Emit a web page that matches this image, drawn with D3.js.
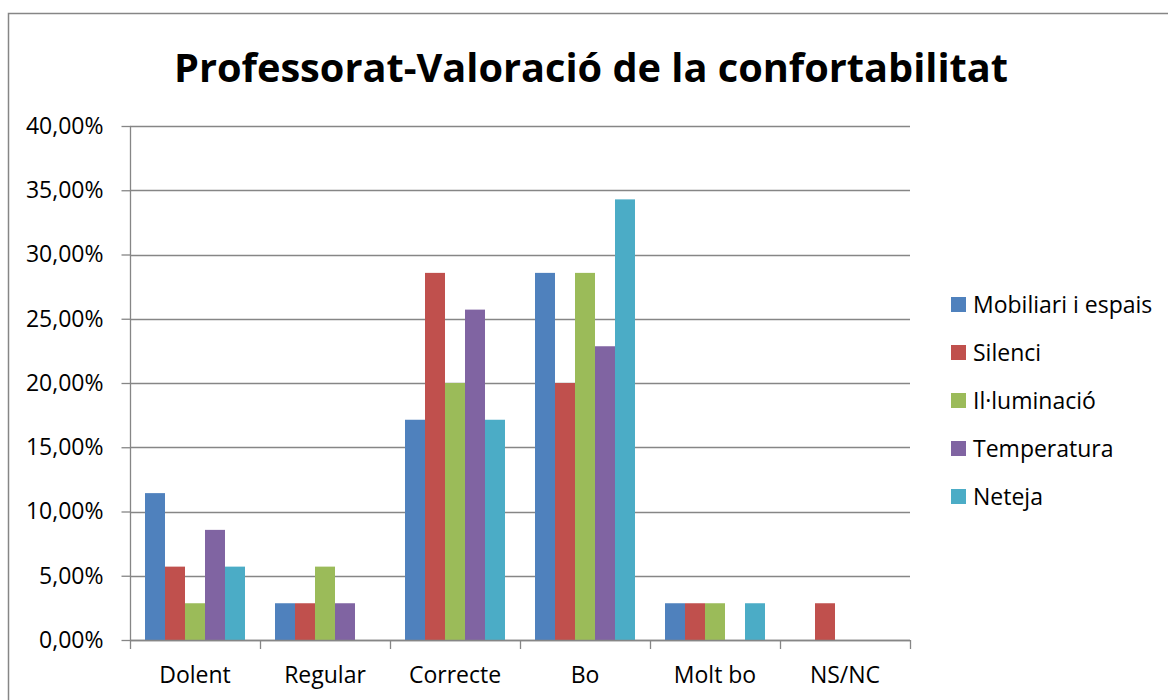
<!DOCTYPE html>
<html><head><meta charset="utf-8">
<script src="https://cdn.jsdelivr.net/npm/d3@7"></script>
<style>body{margin:0;background:#fff}svg{display:block}text{font-family:"Open Sans","Noto Sans",sans-serif}</style>
</head><body>
<script>
const categories = ["Dolent","Regular","Correcte","Bo","Molt bo","NS/NC"];
const seriesNames = ["Mobiliari i espais","Silenci","Il·luminació","Temperatura","Neteja"];
const mobiliari   = [11.43, 2.86, 17.14, 28.57, 2.86, 0];
const silenci     = [5.71, 2.86, 28.57, 20.00, 2.86, 2.86];
const illuminacio = [2.86, 5.71, 20.00, 28.57, 2.86, 0];
const temperatura = [8.57, 2.86, 25.71, 22.86, 0, 0];
const neteja      = [5.71, 0, 17.14, 34.29, 2.86, 0];
const yTicks = [0,5,10,15,20,25,30,35,40];
const colors = ["#4F81BD","#C0504D","#9BBB59","#8064A2","#4BACC6"];
const title = "Professorat-Valoració de la confortabilitat";

const seriesValues = [mobiliari, silenci, illuminacio, temperatura, neteja];
const W=1168,H=700;
const svg=d3.select("body").append("svg").attr("width",W).attr("height",H);
svg.append("rect").attr("x",8.5).attr("y",13.5).attr("width",W+10).attr("height",H+10)
  .attr("fill","#fff").attr("stroke","#868686").attr("stroke-width",1.5);

const L=130,R=910,T=126,B=640;
const x=d3.scaleBand().domain(categories).range([L,R]).paddingInner(0).paddingOuter(0);
const xs=d3.scaleBand().domain(seriesNames).range([0,x.bandwidth()]).paddingInner(0).paddingOuter(0.75);
const y=d3.scaleLinear().domain([0,40]).range([B,T]);

// gridlines
svg.append("g").selectAll("line").data(yTicks).join("line")
  .attr("x1",L).attr("x2",R).attr("y1",d=>Math.round(y(d))+0.5).attr("y2",d=>Math.round(y(d))+0.5)
  .attr("stroke","#868686").attr("stroke-width",1.3);

// bars
const g=svg.append("g");
seriesValues.forEach((vals,si)=>{
  g.selectAll(null).data(vals.map((v,i)=>({v,c:categories[i]}))).join("rect")
    .filter(d=>d.v>0)
    .attr("x",d=>x(d.c)+xs(seriesNames[si]))
    .attr("width",xs.bandwidth())
    .attr("y",d=>y(d.v))
    .attr("height",d=>B-y(d.v))
    .attr("fill",colors[si]);
});

// y axis
const ya=svg.append("g").attr("transform",`translate(${L+0.5},0)`)
  .call(d3.axisLeft(y).tickValues(yTicks).tickSize(9).tickPadding(18)
    .tickFormat(d=>d3.format(".2f")(d).replace(".",",")+"%"));
ya.select(".domain").attr("stroke","#868686").attr("stroke-width",1.3).attr("d",`M0,${T}V${B}`);
ya.selectAll(".tick line").attr("stroke","#868686").attr("stroke-width",1.3);
ya.selectAll(".tick text").attr("font-size",23).attr("fill","#000");

// x axis
const xa=svg.append("g").attr("transform",`translate(0,${B+0.5})`)
  .call(d3.axisBottom(x).tickSize(0).tickPadding(26));
xa.select(".domain").attr("stroke","#868686").attr("stroke-width",1.3).attr("d",`M${L},0H${R}`);
xa.selectAll(".tick text").attr("font-size",23).attr("fill","#000");
svg.append("g").selectAll("line").data(d3.range(categories.length+1)).join("line")
  .attr("x1",i=>L+i*x.step()+0.5).attr("x2",i=>L+i*x.step()+0.5)
  .attr("y1",B).attr("y2",B+9).attr("stroke","#868686").attr("stroke-width",1.3);

// title
svg.append("text").attr("x",591).attr("y",82).attr("text-anchor","middle")
  .attr("font-size",40).attr("font-weight","bold").attr("fill","#000")
  .attr("textLength",834).attr("lengthAdjust","spacingAndGlyphs").text(title);

// legend
const lg=svg.append("g").selectAll("g").data(seriesNames).join("g")
  .attr("transform",(d,i)=>`translate(951,${304+i*48})`);
lg.append("rect").attr("x",0).attr("y",-7).attr("width",15).attr("height",15).attr("fill",(d,i)=>colors[i]);
lg.append("text").attr("x",22).attr("y",9).attr("font-size",23).attr("fill","#000").text(d=>d);
</script>
</body></html>
